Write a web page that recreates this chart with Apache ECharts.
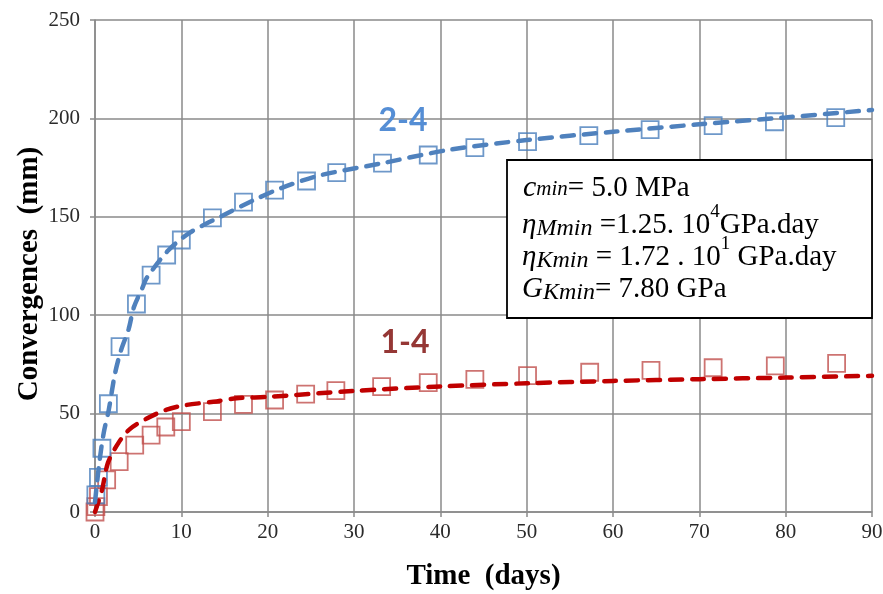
<!DOCTYPE html>
<html>
<head>
<meta charset="utf-8">
<script src="https://cdn.jsdelivr.net/npm/echarts@6/dist/echarts.min.js"></script>
<style>html,body{margin:0;padding:0;background:#fff;}#c{width:883px;height:594px;}</style>
</head>
<body>
<div id="c"></div>
<script>
// ---- data ----
const xTicks = [0, 10, 20, 30, 40, 50, 60, 70, 80, 90];
const yTicks = [0, 50, 100, 150, 200, 250];

// measured convergences, section 2-4
const t24 = [0.1, 0.4, 0.8, 1.55, 2.9, 4.8, 6.5, 8.3, 10.0, 13.6, 17.2, 20.8, 24.5, 28.0, 33.3, 38.6, 44.0, 50.1, 57.2, 64.3, 71.6, 78.7, 85.8];
const c24 = [8.7, 17.6, 32.4, 55.0, 84.0, 105.7, 120.4, 130.6, 138.2, 149.5, 157.5, 163.6, 168.2, 172.4, 177.3, 181.4, 185.1, 188.2, 191.2, 194.3, 196.3, 198.3, 200.4];

// measured convergences, section 1-4
const t14 = [0, 0.1, 0.4, 1.35, 2.8, 4.6, 6.5, 8.2, 10.0, 13.6, 17.2, 20.8, 24.4, 27.9, 33.2, 38.6, 44.0, 50.1, 57.3, 64.4, 71.6, 78.8, 85.9];
const c14 = [0, 2.7, 7.8, 16.3, 25.6, 34.0, 39.1, 43.2, 45.9, 51.0, 54.7, 56.9, 59.9, 61.7, 63.7, 65.7, 67.4, 69.3, 71.0, 72.0, 73.3, 74.3, 75.5];

// fitted model curves (dashed)
const fitT24 = [0, 0.5, 1.0, 1.6, 2.3, 3.0, 3.9, 4.5, 5.5, 6.0, 8.5, 11, 14.5, 18.4, 21.5, 26, 33, 41, 50, 60, 70, 80, 90];
const fitC24 = [5, 25, 40, 52, 70, 82, 93, 104, 114, 119, 133, 142, 150, 158.5, 164.5, 171, 177, 184, 189, 193.2, 197, 200.5, 204.3];
const fitT14 = [0, 0.8, 1.5, 2.7, 4, 6, 8.3, 10.6, 13.7, 16.4, 20, 30, 40, 50, 60, 70, 80, 90];
const fitC14 = [0, 11, 25, 35, 42, 47.5, 52, 54.4, 56, 57.8, 58.5, 61.5, 63.8, 65.4, 66.6, 67.5, 68.3, 69.2];

const label24 = '2-4';
const label14 = '1-4';

const zip = (a, b) => a.map((v, i) => [v, b[i]]);

const chart = echarts.init(document.getElementById('c'), null, {renderer: 'canvas'});
const gridCol = '#8a8a8a';
const serif = '"Liberation Serif", "Times New Roman", serif';

// rich styles for the parameter box
const LH = 34;
const richBox = {
  i: {fontFamily: serif, fontStyle: 'italic', fontSize: 29, fill: '#000', lineHeight: LH},
  c: {fontFamily: serif, fontStyle: 'italic', fontSize: 30, fill: '#000', lineHeight: LH},
  m: {fontFamily: serif, fontStyle: 'italic', fontSize: 21, fill: '#000', lineHeight: LH, padding: [3, 0, 0, 0]},
  s: {fontFamily: serif, fontStyle: 'italic', fontSize: 24, fill: '#000', lineHeight: LH, padding: [8, 0, 0, 0]},
  n: {fontFamily: serif, fontSize: 29, fill: '#000', lineHeight: LH},
  p: {fontFamily: serif, fontSize: 19, fill: '#000', lineHeight: LH, padding: [0, 0, 26, 0]}
};

const option = {
  animation: false,
  backgroundColor: '#fff',
  grid: {left: 95, right: 11, top: 20, bottom: 82, containLabel: false, outerBoundsMode: 'none'},
  xAxis: {
    type: 'value', min: xTicks[0], max: xTicks[xTicks.length - 1], interval: 10,
    name: 'Time  (days)', nameLocation: 'middle', nameGap: 50, nameMoveOverlap: false,
    nameTextStyle: {fontFamily: serif, fontWeight: 'bold', fontSize: 29, color: '#000'},
    axisLine: {show: true, lineStyle: {color: gridCol, width: 1.5}},
    axisTick: {show: true, length: 5, lineStyle: {color: gridCol, width: 1.5}},
    axisLabel: {fontFamily: serif, fontSize: 21, color: '#2a2a2a', margin: 10},
    splitLine: {show: true, lineStyle: {color: gridCol, width: 1.5}}
  },
  yAxis: {
    type: 'value', min: yTicks[0], max: yTicks[yTicks.length - 1], interval: 50,
    name: 'Convergences  (mm)', nameLocation: 'middle', nameGap: 51, nameMoveOverlap: false,
    nameTextStyle: {fontFamily: serif, fontWeight: 'bold', fontSize: 29, color: '#000', padding: [0, 16, 0, 0]},
    axisLine: {show: true, lineStyle: {color: gridCol, width: 1.5}},
    axisTick: {show: true, length: 5, lineStyle: {color: gridCol, width: 1.5}},
    axisLabel: {fontFamily: serif, fontSize: 21, color: '#2a2a2a', margin: 15},
    splitLine: {show: true, lineStyle: {color: gridCol, width: 1.5}}
  },
  series: [
    {
      name: '1-4 measured', type: 'scatter', data: zip(t14, c14), symbol: 'rect', symbolSize: 17,
      itemStyle: {color: 'rgba(0,0,0,0)', borderColor: '#c0504d', borderWidth: 1.8}, z: 2
    },
    {
      name: '2-4 measured', type: 'scatter', data: zip(t24, c24), symbol: 'rect', symbolSize: 17,
      itemStyle: {color: 'rgba(0,0,0,0)', borderColor: '#4a7ebb', borderWidth: 1.8}, z: 2
    },
    {
      name: '1-4 model', type: 'line', data: zip(fitT14, fitC14), showSymbol: false, smooth: 0.3,
      lineStyle: {color: '#c00000', width: 4.5, type: [12, 10], cap: 'round'}, z: 3
    },
    {
      name: '2-4 model', type: 'line', data: zip(fitT24, fitC24), showSymbol: false, smooth: 0.3,
      lineStyle: {color: '#4f81bd', width: 4.5, type: [12, 10], cap: 'round'}, z: 4
    }
  ],
  graphic: [
    {type: 'text', x: 403, y: 121, z: 10,
     style: {text: label24, align: 'center', verticalAlign: 'middle', fontFamily: 'Lato, "Open Sans", sans-serif', fontWeight: 'bold', fontSize: 32, fill: '#558ed5'}},
    {type: 'text', x: 405, y: 343, z: 10,
     style: {text: label14, align: 'center', verticalAlign: 'middle', fontFamily: 'Lato, "Open Sans", sans-serif', fontWeight: 'bold', fontSize: 32, fill: '#953735'}},
    {type: 'rect', shape: {x: 507, y: 160, width: 365, height: 158}, z: 10,
     style: {fill: '#fff', stroke: '#000', lineWidth: 1.8}},
    {type: 'text', x: 523, y: 171, z: 11,
     style: {rich: richBox, text: '{c|c}{m|min}{n|= 5.0 MPa}'}},
    {type: 'text', x: 522, y: 208, z: 11,
     style: {rich: richBox, text: '{i|η}{s|Mmin}{n| =1.25. 10}{p|4}{n|GPa.day}'}},
    {type: 'text', x: 522, y: 240, z: 11,
     style: {rich: richBox, text: '{i|η}{s|Kmin}{n| = 1.72 . 10}{p|1}{n| GPa.day}'}},
    {type: 'text', x: 522, y: 272, z: 11,
     style: {rich: richBox, text: '{i|G}{s|Kmin}{n|= 7.80 GPa}'}}
  ]
};
chart.setOption(option);
</script>
</body>
</html>
